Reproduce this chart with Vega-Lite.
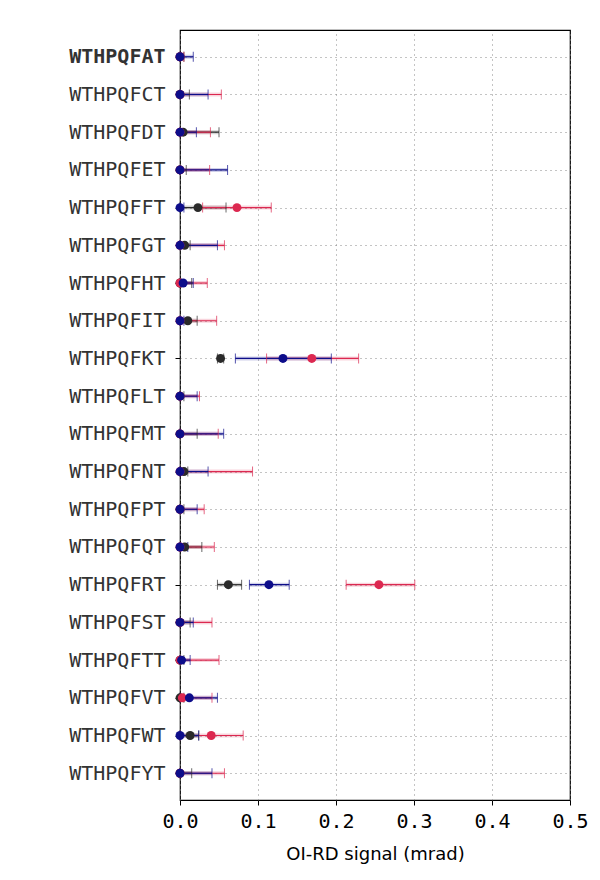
{
"$schema":"https://vega.github.io/schema/vega-lite/v6.json",
"width":390,"height":770,
"autosize":{"type":"none"},
"padding":{"left":180,"top":30,"right":30,"bottom":80},
"background":"white",
"data":{"values":[
{"name":"WTHPQFAT","s":"k","o":1,"v":0,"lo":0,"hi":0.005},{"name":"WTHPQFAT","s":"r","o":2,"v":0,"lo":0,"hi":0.005},{"name":"WTHPQFAT","s":"n","o":3,"v":0,"lo":0,"hi":0.017},
{"name":"WTHPQFCT","s":"k","o":1,"v":0,"lo":0,"hi":0.012},{"name":"WTHPQFCT","s":"r","o":2,"v":0,"lo":0,"hi":0.053},{"name":"WTHPQFCT","s":"n","o":3,"v":0,"lo":0,"hi":0.036},
{"name":"WTHPQFDT","s":"k","o":1,"v":0.004,"lo":0,"hi":0.050},{"name":"WTHPQFDT","s":"r","o":2,"v":0,"lo":0,"hi":0.039},{"name":"WTHPQFDT","s":"n","o":3,"v":0,"lo":0,"hi":0.021},
{"name":"WTHPQFET","s":"k","o":1,"v":0,"lo":0,"hi":0.008},{"name":"WTHPQFET","s":"r","o":2,"v":0,"lo":0,"hi":0.038},{"name":"WTHPQFET","s":"n","o":3,"v":0,"lo":0,"hi":0.061},
{"name":"WTHPQFFT","s":"k","o":1,"v":0.023,"lo":0,"hi":0.059},{"name":"WTHPQFFT","s":"r","o":2,"v":0.073,"lo":0.029,"hi":0.117},{"name":"WTHPQFFT","s":"n","o":3,"v":0,"lo":0,"hi":0.005},
{"name":"WTHPQFGT","s":"k","o":1,"v":0.006,"lo":0,"hi":0.013},{"name":"WTHPQFGT","s":"r","o":2,"v":0,"lo":0,"hi":0.057},{"name":"WTHPQFGT","s":"n","o":3,"v":0,"lo":0,"hi":0.048},
{"name":"WTHPQFHT","s":"k","o":1,"v":0,"lo":0,"hi":0.015},{"name":"WTHPQFHT","s":"r","o":2,"v":0,"lo":0,"hi":0.035},{"name":"WTHPQFHT","s":"n","o":3,"v":0.004,"lo":0,"hi":0.017},
{"name":"WTHPQFIT","s":"k","o":1,"v":0.010,"lo":0,"hi":0.022},{"name":"WTHPQFIT","s":"r","o":2,"v":0,"lo":0,"hi":0.047},{"name":"WTHPQFIT","s":"n","o":3,"v":0,"lo":0,"hi":0.005},
{"name":"WTHPQFKT","s":"k","o":1,"v":0.052,"lo":0.048,"hi":0.056},{"name":"WTHPQFKT","s":"r","o":2,"v":0.169,"lo":0.111,"hi":0.229},{"name":"WTHPQFKT","s":"n","o":3,"v":0.132,"lo":0.071,"hi":0.194},
{"name":"WTHPQFLT","s":"k","o":1,"v":0,"lo":0,"hi":0.005},{"name":"WTHPQFLT","s":"r","o":2,"v":0,"lo":0,"hi":0.025},{"name":"WTHPQFLT","s":"n","o":3,"v":0,"lo":0,"hi":0.022},
{"name":"WTHPQFMT","s":"k","o":1,"v":0,"lo":0,"hi":0.022},{"name":"WTHPQFMT","s":"r","o":2,"v":0,"lo":0,"hi":0.049},{"name":"WTHPQFMT","s":"n","o":3,"v":0,"lo":0,"hi":0.056},
{"name":"WTHPQFNT","s":"k","o":1,"v":0.005,"lo":0,"hi":0.010},{"name":"WTHPQFNT","s":"r","o":2,"v":0,"lo":0,"hi":0.093},{"name":"WTHPQFNT","s":"n","o":3,"v":0,"lo":0,"hi":0.036},
{"name":"WTHPQFPT","s":"k","o":1,"v":0,"lo":0,"hi":0.005},{"name":"WTHPQFPT","s":"r","o":2,"v":0,"lo":0,"hi":0.031},{"name":"WTHPQFPT","s":"n","o":3,"v":0,"lo":0,"hi":0.022},
{"name":"WTHPQFQT","s":"k","o":1,"v":0.006,"lo":0,"hi":0.028},{"name":"WTHPQFQT","s":"r","o":2,"v":0,"lo":0,"hi":0.044},{"name":"WTHPQFQT","s":"n","o":3,"v":0,"lo":0,"hi":0.010},
{"name":"WTHPQFRT","s":"k","o":1,"v":0.062,"lo":0.048,"hi":0.079},{"name":"WTHPQFRT","s":"r","o":2,"v":0.255,"lo":0.213,"hi":0.301},{"name":"WTHPQFRT","s":"n","o":3,"v":0.114,"lo":0.089,"hi":0.140},
{"name":"WTHPQFST","s":"k","o":1,"v":0,"lo":0,"hi":0.013},{"name":"WTHPQFST","s":"r","o":2,"v":0,"lo":0,"hi":0.041},{"name":"WTHPQFST","s":"n","o":3,"v":0,"lo":0,"hi":0.017},
{"name":"WTHPQFTT","s":"k","o":1,"v":0,"lo":0,"hi":0.005},{"name":"WTHPQFTT","s":"r","o":2,"v":0,"lo":0,"hi":0.050},{"name":"WTHPQFTT","s":"n","o":3,"v":0.002,"lo":0,"hi":0.013},
{"name":"WTHPQFVT","s":"k","o":1,"v":0,"lo":0,"hi":0.005},{"name":"WTHPQFVT","s":"r","o":2,"v":0.003,"lo":0,"hi":0.041},{"name":"WTHPQFVT","s":"n","o":3,"v":0.012,"lo":0,"hi":0.048},
{"name":"WTHPQFWT","s":"k","o":1,"v":0.013,"lo":0,"hi":0.024},{"name":"WTHPQFWT","s":"r","o":2,"v":0.040,"lo":0,"hi":0.081},{"name":"WTHPQFWT","s":"n","o":3,"v":0,"lo":0,"hi":0.024},
{"name":"WTHPQFYT","s":"k","o":1,"v":0,"lo":0,"hi":0.015},{"name":"WTHPQFYT","s":"r","o":2,"v":0,"lo":0,"hi":0.057},{"name":"WTHPQFYT","s":"n","o":3,"v":0,"lo":0,"hi":0.041}
]},
"encoding":{
"y":{"field":"name","type":"nominal","sort":null,"scale":{"type":"point","padding":0.71},
 "axis":{"title":null,"labelFont":"DejaVu Sans Mono","labelFontSize":20,"labelColor":"#333","labelPadding":10,"tickSize":5,"tickColor":"black","domain":false,"grid":true,"gridDash":[1,4],"gridColor":"#888",
 "labelFontWeight":{"condition":{"test":"datum.value==='WTHPQFAT'","value":"bold"},"value":"normal"}}},
"color":{"field":"s","type":"nominal","scale":{"domain":["k","r","n"],"range":["#2a2a2a","#dc2850","#0d0d8a"]},"legend":null},
"order":{"field":"o","type":"quantitative"}
},
"layer":[
{"mark":{"type":"rule","strokeWidth":4,"opacity":0.2},"encoding":{"x":{"field":"lo","type":"quantitative"},"x2":{"field":"hi"}}},
{"mark":{"type":"rule","strokeWidth":1.2},"encoding":{"x":{"field":"lo","type":"quantitative"},"x2":{"field":"hi"}}},
{"mark":{"type":"tick","size":10,"thickness":1},"encoding":{"x":{"field":"lo","type":"quantitative"}}},
{"mark":{"type":"tick","size":10,"thickness":1},"encoding":{"x":{"field":"hi","type":"quantitative"}}},
{"mark":{"type":"circle","size":80,"opacity":1},"encoding":{"x":{"field":"v","type":"quantitative","scale":{"domain":[0,0.5]},
 "axis":{"title":"OI-RD signal (mrad)","titleFont":"DejaVu Sans","titleFontSize":18,"titleFontWeight":"normal","titlePadding":14,"titleColor":"black","labelFont":"DejaVu Sans Mono","labelFontSize":20,"labelColor":"black","labelFlush":false,"values":[0,0.1,0.2,0.3,0.4,0.5],"format":".1f","tickColor":"black","tickSize":5,"labelPadding":6,"grid":true,"gridDash":[1,4],"gridColor":"#888","domain":false}}}}
],
"config":{"view":{"stroke":"black","strokeWidth":1.2}}
}
